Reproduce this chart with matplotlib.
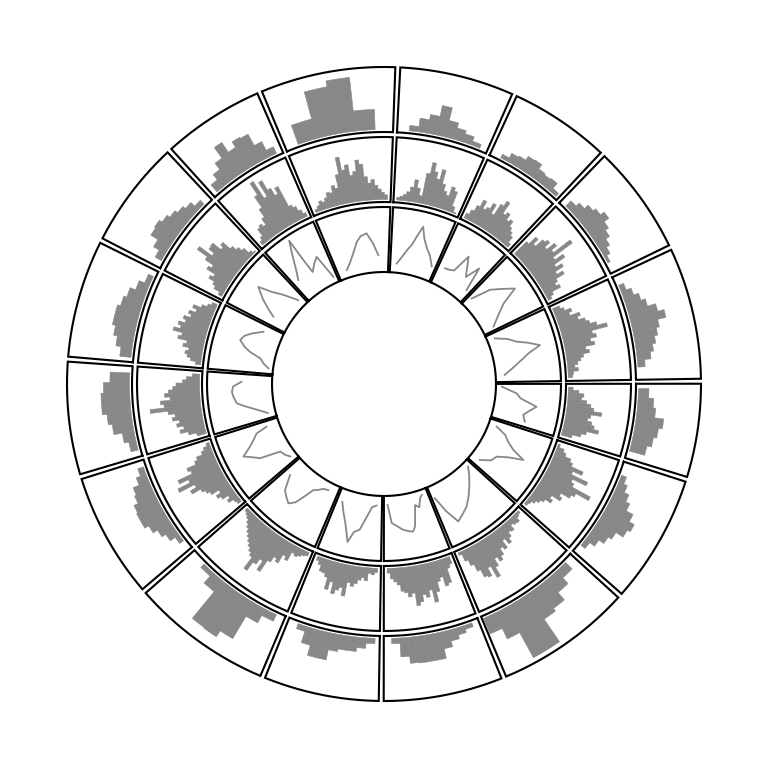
import numpy as np
import matplotlib
matplotlib.use("Agg")
import matplotlib.pyplot as plt

# sectors, clockwise from the top boundary (widths in degrees, gap included)
sector_names = list("ABCDEFGHIJKLMNOP")
sector_sizes = [21.8, 19.3, 20.9, 25.0, 18.0, 24.4, 25.9, 22.7,
                22.0, 26.7, 23.8, 21.5, 22.4, 20.5, 19.5, 25.6]
start_angle = 2.5
gap = 0.9

# inner track: line (x in degrees, y as 0..1 of track height)
line_x = [
    [6, 8, 10, 11.3, 12.7, 14, 15.5, 17.5, 19.6, 22.1],
    [27.8, 29.7, 31.7, 33.6, 35.5, 37.4, 39.5, 41.3],
    [45.7, 48.4, 51, 53.9, 56, 58, 60, 62.3],
    [67.6, 70, 72.3, 74, 76, 78, 79.5, 82, 85.7],
    [91.3, 94, 96, 98.5, 100.5, 102.5, 105],
    [110.7, 112.8, 114.9, 117, 118.6, 120.5, 122.8, 125.5, 128.4],
    [134.5, 137, 140, 143, 146, 149, 151.6, 154, 156],
    [161.2, 162.5, 164, 165.6, 167.7, 168.8, 170, 172.5, 174.5, 176.8, 178.3],
    [183.5, 185.5, 187.5, 189.5, 191.5, 193, 195.5, 197.5, 199.5],
    [207.7, 210, 212, 213.7, 214.9, 216.8, 218.7, 221, 223, 225.9],
    [232.3, 234.5, 236.9, 239.1, 241, 242.7, 245, 247, 248.8, 250],
    [256, 257.1, 259, 261, 262.5, 265, 267, 269, 270.9],
    [277.7, 279.5, 281.7, 283.5, 285, 287, 289, 291, 293.4],
    [301.3, 303, 305, 307.7, 309.5, 311.5, 314.4],
    [320.5, 322.5, 324.5, 326.5, 327, 327.5, 330, 332.1, 334.7],
    [341.9, 344, 346, 348, 349.1, 351, 353.4, 355.5, 357.5],
]
line_y = [
    [.14, .25, .38, .46, .62, .77, .60, .47, .38, .23],
    [.29, .30, .33, .63, .48, .35, .58, .20],
    [.16, .46, .60, .77, .50, .38, .28, .18],
    [.12, .30, .42, .58, .75, .55, .46, .32, .14],
    [.09, .32, .39, .65, .55, .47, .52],
    [.13, .30, .38, .51, .72, .50, .34, .30, .16],
    [.09, .20, .32, .44, .55, .62, .68, .45, .20],
    [.08, .12, .25, .20, .52, .59, .58, .54, .48, .42, .14],
    [.15, .18, .35, .55, .60, .77, .50, .35, .20],
    [.12, .14, .20, .24, .36, .55, .63, .57, .51, .29],
    [.10, .15, .18, .50, .60, .71, .55, .45, .38, .20],
    [.12, .18, .30, .45, .56, .60, .62, .60, .47],
    [.07, .15, .22, .40, .50, .59, .55, .45, .30],
    [.27, .40, .55, .72, .50, .35, .12],
    [.35, .50, .70, .92, .53, .32, .42, .49, .10],
    [.12, .20, .30, .42, .50, .58, .61, .45, .26],
]

# middle track: bars (0..1 of track height)
bar_vals = [
    [.08, .10, .13, .18, .26, .38, .26, .15, .51, .69, .56, .46, .62, .41, .31, .26, .41, .36, .13, .05],
    [.12, .20, .30, .42, .30, .35, .45, .30, .50, .59, .40, .45, .35, .39, .30, .25, .20, .10],
    [.30, .45, .35, .50, .55, .45, .60, .50, .82, .45, .60, .40, .50, .35, .45, .30, .25, .30, .15, .10],
    [.15, .20, .30, .25, .40, .35, .45, .50, .60, .75, .50, .55, .45, .50, .35, .40, .30, .25, .20, .15, .20, .12, .10],
    [.11, .20, .28, .25, .33, .40, .45, .58, .42, .38, .45, .50, .58, .40, .33, .20],
    [.07, .15, .20, .30, .35, .55, .40, .68, .45, .50, .82, .60, .55, .40, .45, .30, .35, .25, .20, .15, .10, .08],
    [.08, .10, .16, .15, .12, .20, .18, .25, .32, .22, .35, .30, .40, .46, .38, .50, .65, .45, .58, .55, .42, .30, .20, .08],
    [.15, .20, .42, .45, .30, .35, .50, .65, .45, .55, .50, .60, .65, .45, .50, .43, .40, .30, .25, .20, .11],
    [.10, .14, .12, .24, .20, .24, .30, .35, .30, .52, .40, .45, .52, .35, .48, .30, .25, .24, .15, .10],
    [.10, .12, .15, .18, .15, .30, .25, .40, .35, .45, .66, .50, .60, .76, .55, .50, .45, .40, .35, .30, .25, .20, .15, .12, .09],
    [.10, .12, .20, .15, .25, .30, .22, .35, .40, .45, .60, .50, .76, .55, .70, .46, .50, .35, .30, .20, .15, .09],
    [.18, .30, .42, .35, .45, .40, .50, .45, .55, .82, .60, .65, .50, .58, .52, .45, .40, .30, .24, .15],
    [.12, .20, .26, .30, .25, .35, .30, .45, .40, .55, .45, .50, .40, .45, .35, .40, .30, .37, .25, .17, .12],
    [.10, .20, .25, .35, .30, .45, .40, .55, .74, .50, .60, .61, .45, .50, .35, .27, .20, .10, .05],
    [.10, .15, .27, .30, .25, .36, .50, .70, .91, .60, .85, .68, .55, .65, .30, .25, .17, .10],
    [.08, .12, .18, .15, .20, .27, .25, .35, .30, .50, .76, .55, .62, .45, .50, .67, .60, .40, .30, .35, .26, .20, .15, .11],
]

# outer track: histogram bins (0..1 of track height) and their angular range
hist_vals = [
    [.12, .25, .33, .50, .30, .22, .17, .10],
    [.10, .18, .20, .27, .28, .20, .18, .20, .10],
    [.15, .22, .30, .35, .42, .33, .27, .20, .14, .08],
    [.12, .20, .28, .35, .48, .58, .45, .40, .35, .30, .25, .15],
    [.20, .28, .32, .46, .40, .35, .28],
    [.12, .18, .26, .33, .45, .54, .49, .36, .30, .21, .12],
    [.18, .30, .45, .50, .92, .92, .48, .30],
    [.10, .15, .21, .30, .45, .45, .45, .44, .33, .12],
    [.12, .20, .26, .26, .30, .46, .46, .30, .12],
    [.15, .28, .68, .79, .78, .25, .11],
    [.11, .20, .27, .35, .42, .42, .40, .33, .30, .20, .13],
    [.15, .22, .35, .41, .48, .48, .44, .34],
    [.21, .29, .35, .40, .40, .35, .30, .21, .12],
    [.15, .25, .38, .40, .35, .30, .25, .20, .12],
    [.18, .28, .40, .60, .42, .52, .50, .30, .15],
    [.35, .78, .87, .35],
]
hist_span = [
    (5.7, 22.1), (27.3, 42.5), (45.6, 61.6), (67.2, 86.2),
    (91.0, 105.3), (111.0, 129.3), (134.5, 157.0), (159.8, 178.3),
    (182.0, 199.7), (205.0, 225.0), (232.0, 251.0), (255.0, 272.5),
    (276.0, 295.0), (299.0, 315.0), (319.0, 335.0), (340.3, 358.0),
]

gray = "#888888"
rings = [(112, 177), (182, 247), (252, 317)]
pad = 2.5

fig = plt.figure(figsize=(7.68, 7.68), dpi=100)
ax = fig.add_axes([0, 0, 1, 1], projection="polar")
ax.set_theta_zero_location("N")
ax.set_theta_direction(-1)
ax.set_ylim(0, 384)
ax.axis("off")

bounds = start_angle + np.concatenate([[0], np.cumsum(sector_sizes)])

for i in range(len(sector_names)):
    t0 = bounds[i] + gap / 2
    t1 = bounds[i + 1] - gap / 2

    # frames
    for r0, r1 in rings:
        th = np.linspace(t0, t1, 120)
        tt = np.concatenate([th, th[::-1], [t0]])
        rr = np.concatenate([np.full(120, r0), np.full(120, r1), [r0]])
        ax.plot(np.radians(tt), rr, color="black", lw=1.5,
                solid_joinstyle="miter", zorder=3)

    # inner line
    r0, r1 = rings[0]
    ax.plot(np.radians(line_x[i]), r0 + np.array(line_y[i]) * (r1 - r0),
            color=gray, lw=1.3, zorder=2)

    # middle bars
    r0, r1 = rings[1]
    vals = np.array(bar_vals[i])
    a0, a1 = t0 + 1.0, t1 - 1.0
    w = (a1 - a0) / len(vals)
    centers = a0 + w * (np.arange(len(vals)) + 0.5)
    h = np.maximum(vals * (r1 - r0) - pad, 1)
    ax.bar(np.radians(centers), h, width=np.radians(w), bottom=r0 + pad,
           color=gray, edgecolor=gray, linewidth=0.4, zorder=2)

    # outer histogram
    r0, r1 = rings[2]
    vals = np.array(hist_vals[i])
    a0, a1 = hist_span[i]
    w = (a1 - a0) / len(vals)
    centers = a0 + w * (np.arange(len(vals)) + 0.5)
    h = np.maximum(vals * (r1 - r0) - pad, 1)
    ax.bar(np.radians(centers), h, width=np.radians(w), bottom=r0 + pad,
           color=gray, edgecolor=gray, linewidth=0.4, zorder=2)

plt.savefig("out.png", dpi=100)
